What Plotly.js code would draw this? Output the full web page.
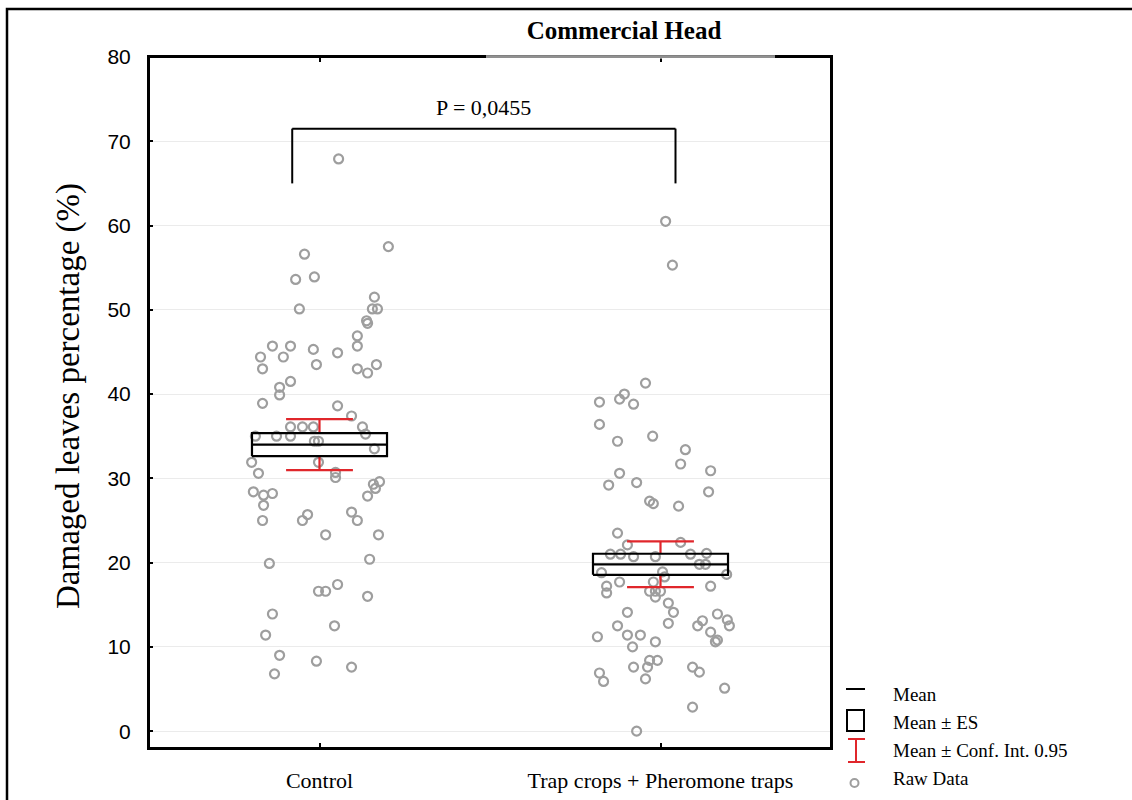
<!DOCTYPE html>
<html>
<head>
<meta charset="utf-8">
<script src="https://cdn.plot.ly/plotly-3.0.1.min.js"></script>
<style>html,body{margin:0;padding:0;background:#fff;}#chart{width:1132px;height:800px;}</style>
</head>
<body>
<div id="chart"></div>
<script>
// ---- data ----
const categories = ["Control", "Trap crops + Pheromone traps"];

const controlValues = [67.9, 56.6, 57.5, 53.6, 53.9, 50.1, 51.5, 50.1, 50.1, 48.7, 48.4, 46.9, 45.7, 45.7, 45.7,
  44.4, 44.4, 45.3, 44.9, 43.0, 43.5, 43.0, 42.5, 43.5, 41.5, 40.8, 39.9, 38.9, 38.6, 37.4,
  36.1, 36.1, 36.1, 36.1, 35.25, 35.0, 35.0, 35.0, 34.4, 34.4, 33.5, 31.9, 31.9, 30.6, 30.7,
  30.1, 29.6, 29.3, 28.8, 27.9, 28.4, 28.0, 28.2, 26.8, 25.7, 25.0, 26.0, 25.0, 25.0, 23.3,
  23.3, 19.9, 20.4, 16.6, 16.6, 17.4, 16.0, 13.9, 12.5, 11.4, 9.0, 8.3, 7.6, 6.8];
const controlJitter = [0.056, -0.044, 0.202, -0.070, -0.015, -0.059, 0.161, 0.155, 0.170, 0.138, 0.141, 0.111, 0.111, -0.138, -0.085,
  -0.173, -0.106, -0.018, 0.053, -0.167, -0.009, 0.111, 0.141, 0.167, -0.085, -0.117, -0.117, -0.167, 0.053, 0.094,
  -0.085, -0.050, -0.018, 0.126, 0.135, -0.188, -0.126, -0.085, -0.015, -0.003, 0.161, -0.199, -0.003, -0.179, 0.047,
  0.047, 0.176, 0.158, 0.164, 0.141, -0.194, -0.164, -0.138, -0.164, -0.035, -0.050, 0.094, 0.111, -0.167, 0.018,
  0.173, -0.147, 0.147, -0.003, 0.018, 0.053, 0.141, -0.138, 0.044, -0.158, -0.117, -0.009, 0.094, -0.132];

const trapValues = [60.5, 55.3, 41.3, 39.05, 39.4, 40.0, 38.8, 36.4, 34.4, 35.0, 33.4, 31.7, 30.9, 30.6, 29.2,
  29.5, 28.4, 27.3, 27.0, 26.7, 23.5, 22.1, 22.4, 21.0, 21.0, 20.7, 20.7, 21.0, 21.1, 19.8,
  19.8, 18.8, 18.9, 18.3, 18.6, 17.2, 16.4, 17.7, 17.2, 17.7, 16.6, 16.6, 16.6, 15.9, 15.2,
  14.1, 14.1, 12.8, 12.5, 11.2, 11.4, 11.4, 10.0, 10.6, 13.9, 13.2, 12.5, 13.1, 12.5, 11.75,
  10.6, 10.8, 8.4, 8.4, 7.6, 7.6, 6.2, 6.9, 5.9, 7.6, 7.0, 5.1, 2.85, 0.0];
const trapJitter = [0.015, 0.035, -0.044, -0.179, -0.120, -0.106, -0.079, -0.179, -0.126, -0.023, 0.073, 0.059, 0.147, -0.120, -0.152,
  -0.070, 0.141, -0.032, -0.021, 0.053, -0.126, -0.097, 0.059, -0.147, -0.117, -0.079, -0.015, 0.088, 0.135, 0.114,
  0.132, -0.173, 0.006, 0.012, 0.194, -0.158, -0.158, -0.120, 0.147, -0.021, -0.032, -0.015, 0.000, -0.015, 0.023,
  0.038, -0.097, 0.023, -0.126, -0.185, -0.097, -0.059, -0.082, -0.015, 0.167, 0.196, 0.202, 0.123, 0.109, 0.147,
  0.161, 0.167, -0.032, -0.009, -0.079, -0.038, -0.044, -0.179, -0.167, 0.094, 0.114, 0.188, 0.094, -0.070];

const groupMeans = [34.0, 19.8];
const groupSE = [1.37, 1.25];
const groupCI95 = [3.03, 2.72];

const pValueText = "P = 0,0455";
const legendLabels = ["Mean", "Mean \u00b1 ES", "Mean \u00b1 Conf. Int. 0.95", "Raw Data"];

// ---- styling constants ----
const BOX_HW = 0.198;
const CAP_HW = 0.098;
const RED = "#e0262b";
const GRAY = "#9e9e9e";
const SERIF = "Liberation Serif, Times New Roman, serif";
const SANS = "Liberation Sans, Arial, sans-serif";

// ---- build traces ----
const rawTrace = (vals, jit, idx) => ({
  type: "scatter", mode: "markers",
  x: vals.map((v, i) => idx + jit[i]), y: vals,
  marker: {symbol: "circle-open", size: 9, color: GRAY, line: {width: 2.2, color: GRAY}},
  showlegend: false, hoverinfo: "y"
});

const boxX = [], boxY = [], meanX = [], meanY = [], ciX = [], ciY = [];
groupMeans.forEach((m, i) => {
  const lo = m - groupSE[i], hi = m + groupSE[i];
  boxX.push(i - BOX_HW, i + BOX_HW, i + BOX_HW, i - BOX_HW, i - BOX_HW, null);
  boxY.push(lo, lo, hi, hi, lo, null);
  meanX.push(i - BOX_HW, i + BOX_HW, null);
  meanY.push(m, m, null);
  const cHi = m + groupCI95[i], cLo = m - groupCI95[i];
  ciX.push(i, i, null, i - CAP_HW, i + CAP_HW, null, i, i, null, i - CAP_HW, i + CAP_HW, null);
  ciY.push(hi, cHi, null, cHi, cHi, null, lo, cLo, null, cLo, cLo, null);
});

const traces = [
  rawTrace(controlValues, controlJitter, 0),
  rawTrace(trapValues, trapJitter, 1),
  {type: "scatter", mode: "lines", x: ciX, y: ciY, line: {color: RED, width: 2.2}, showlegend: false, hoverinfo: "skip"},
  {type: "scatter", mode: "lines", x: boxX, y: boxY, line: {color: "black", width: 2.2}, showlegend: false, hoverinfo: "skip"},
  {type: "scatter", mode: "lines", x: meanX, y: meanY, line: {color: "black", width: 2.2}, showlegend: false, hoverinfo: "skip"}
];

// ---- layout helpers (pixel -> paper) ----
const L = 149, R = 831, T = 57, B = 748;
const px = v => (v - L) / (R - L);
const py = v => (B - v) / (B - T);

const bracketLeft = -0.08, bracketRight = 1.044, bracketLow = 65, bracketTop = 71.5;

const shapes = [
  // outer figure border
  {type: "rect", xref: "paper", yref: "paper", x0: px(7), x1: px(1150), y0: py(815), y1: py(9),
   line: {color: "black", width: 2.5}},
  // plot frame
  {type: "rect", xref: "paper", yref: "paper", x0: 0, x1: 1, y0: 0, y1: 1, layer: "above",
   line: {color: "black", width: 2}},
  // title box effect on top frame
  {type: "line", xref: "paper", yref: "paper", x0: px(486), x1: px(775), y0: 1, y1: 1, layer: "above",
   line: {color: "white", width: 3}},
  {type: "line", xref: "paper", yref: "paper", x0: px(486), x1: px(775), y0: 1, y1: 1, layer: "above",
   line: {color: "#222", width: 1}},
  // significance bracket
  {type: "line", xref: "x", yref: "y", x0: bracketLeft, x1: bracketLeft, y0: bracketLow, y1: bracketTop, line: {color: "black", width: 2}},
  {type: "line", xref: "x", yref: "y", x0: bracketRight, x1: bracketRight, y0: bracketLow, y1: bracketTop, line: {color: "black", width: 2}},
  {type: "line", xref: "x", yref: "y", x0: bracketLeft, x1: bracketRight, y0: bracketTop, y1: bracketTop, line: {color: "black", width: 2}},
  // legend symbols
  {type: "line", xref: "paper", yref: "paper", x0: px(846), x1: px(865), y0: py(689), y1: py(689), line: {color: "black", width: 2}},
  {type: "rect", xref: "paper", yref: "paper", x0: px(847), x1: px(864), y0: py(731), y1: py(710), line: {color: "black", width: 2}},
  {type: "line", xref: "paper", yref: "paper", x0: px(856), x1: px(856), y0: py(739), y1: py(762), line: {color: RED, width: 2}},
  {type: "line", xref: "paper", yref: "paper", x0: px(848), x1: px(865), y0: py(739), y1: py(739), line: {color: RED, width: 2}},
  {type: "line", xref: "paper", yref: "paper", x0: px(848), x1: px(865), y0: py(762), y1: py(762), line: {color: RED, width: 2}},
  {type: "circle", xref: "paper", yref: "paper", x0: px(850.5), x1: px(858.5), y0: py(787), y1: py(779), line: {color: GRAY, width: 2}}
];

const legendY = [694, 722, 750, 778];
const annotations = legendLabels.map((t, i) => ({
  xref: "paper", yref: "paper", x: px(891), y: py(legendY[i]), xanchor: "left", yanchor: "middle",
  text: t, showarrow: false, font: {family: SERIF, size: 19, color: "black"}
}));
annotations.push({
  xref: "x", yref: "y", x: (bracketLeft + bracketRight) / 2, y: 74, xanchor: "center", yanchor: "middle",
  text: pValueText, showarrow: false, font: {family: SERIF, size: 22, color: "black"}
});
annotations.push({
  xref: "paper", yref: "paper", x: px(68), y: py(396), xanchor: "center", yanchor: "middle", textangle: -90,
  text: "Damaged leaves percentage (%)", showarrow: false, font: {family: SERIF, size: 33, color: "black"}
});

const layout = {
  width: 1132, height: 800, autosize: false,
  margin: {l: L, r: 1132 - R, t: T, b: 800 - B, pad: 0},
  paper_bgcolor: "white", plot_bgcolor: "white",
  title: {text: "<b>Commercial Head</b>", font: {family: SERIF, size: 25, color: "black"},
          xref: "paper", x: px(624), xanchor: "center", yref: "container", y: 1 - 30 / 800, yanchor: "middle"},
  xaxis: {range: [-0.5, 1.5], tickvals: [0, 1], ticktext: categories, ticks: "inside", ticklen: 5, tickwidth: 2,
          tickcolor: "black", showline: true, linecolor: "black", linewidth: 2, mirror: "ticks",
          showgrid: false, zeroline: false, ticklabelstandoff: 12,
          tickfont: {family: SERIF, size: 22, color: "black"}},
  yaxis: {range: [-2, 80], tick0: 0, dtick: 10, ticks: "inside", ticklen: 4, tickwidth: 2, tickcolor: "black",
          showline: true, linecolor: "black", linewidth: 2, mirror: true,
          showgrid: true, gridcolor: "#ebebeb", gridwidth: 1, zeroline: false, ticklabelstandoff: 12,
          tickfont: {family: SANS, size: 21, color: "black"}},
  shapes: shapes,
  annotations: annotations,
  showlegend: false
};

Plotly.newPlot("chart", traces, layout, {displayModeBar: false, staticPlot: true});
</script>
</body>
</html>
